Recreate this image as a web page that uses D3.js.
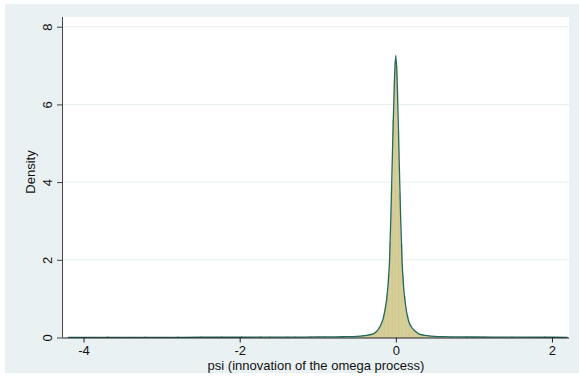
<!DOCTYPE html>
<html><head><meta charset="utf-8">
<script src="https://cdn.jsdelivr.net/npm/d3@7"></script>
<style>html,body{margin:0;padding:0;background:#fff;}svg{display:block;}</style>
</head><body>
<script>
// ---- data ----
const xTicks = [-4, -2, 0, 2];
const yTicks = [0, 2, 4, 6, 8];
const xTitle = "psi (innovation of the omega process)";
const yTitle = "Density";
const binWidth = 0.02;
// central histogram bins (bin start)
const binStart = [-0.60,-0.58,-0.56,-0.54,-0.52,-0.50,-0.48,-0.46,-0.44,-0.42,-0.40,-0.38,-0.36,-0.34,-0.32,-0.30,-0.28,-0.26,-0.24,-0.22,-0.20,-0.18,-0.16,-0.14,-0.12,-0.10,-0.08,-0.06,-0.04,-0.02,
  0.00,0.02,0.04,0.06,0.08,0.10,0.12,0.14,0.16,0.18,0.20,0.22,0.24,0.26,0.28,0.30,0.32,0.34,0.36,0.38,0.40,0.42,0.44,0.46,0.48,0.50,0.52,0.54,0.56,0.58];
const binHeight = [0.02,0.03,0.02,0.03,0.03,0.04,0.03,0.04,0.05,0.05,0.06,0.06,0.07,0.08,0.09,0.10,0.12,0.15,0.19,0.25,0.33,0.42,0.58,0.78,1.10,1.62,2.45,3.90,5.60,7.10,
  7.00,5.30,3.70,2.40,1.60,1.05,0.75,0.55,0.40,0.31,0.24,0.19,0.15,0.12,0.10,0.08,0.07,0.06,0.05,0.045,0.05,0.04,0.04,0.03,0.03,0.03,0.02,0.02,0.02,0.02];
// sparse tail bins
const tailStart = [-4.14,-4.02,-3.86,-3.70,-3.58,-3.40,-3.22,-3.10,-2.94,-2.80,-2.62,-2.50,-2.38,-2.24,-2.10,-1.98,-1.86,-1.74,-1.62,-1.50,-1.40,-1.30,-1.20,-1.10,-1.00,-0.92,-0.84,-0.76,-0.68,
  0.62,0.70,0.80,0.90,1.00,1.12,1.24,1.36,1.48,1.62,1.76,1.90,2.04];
const tailHeight = [0.01,0.01,0.01,0.02,0.01,0.01,0.02,0.01,0.01,0.02,0.01,0.02,0.01,0.02,0.01,0.02,0.01,0.02,0.02,0.01,0.02,0.02,0.01,0.02,0.02,0.02,0.01,0.02,0.02,
  0.02,0.02,0.01,0.02,0.01,0.02,0.01,0.01,0.02,0.01,0.01,0.02,0.01];
// kernel density curve
const kdeX = [-4.20,-3.50,-3.00,-2.50,-2.00,-1.50,-1.20,-1.00,-0.80,-0.70,-0.60,-0.50,-0.40,-0.30,-0.25,-0.20,-0.16,-0.12,-0.10,-0.08,-0.06,-0.04,-0.02,0.00,
  0.02,0.04,0.06,0.08,0.10,0.12,0.16,0.20,0.25,0.30,0.40,0.50,0.60,0.70,0.80,1.00,1.50,2.00,2.20];
const kdeY = [0.004,0.004,0.005,0.006,0.007,0.009,0.012,0.014,0.017,0.019,0.022,0.03,0.05,0.085,0.15,0.29,0.50,0.95,1.35,2.00,3.40,5.00,6.50,7.27,
  6.40,4.80,3.20,1.95,1.30,0.90,0.45,0.27,0.16,0.085,0.05,0.03,0.022,0.018,0.016,0.013,0.008,0.006,0.005];

// ---- drawing ----
const W = 579, H = 383;
const svg = d3.select("body").append("svg").attr("width", W).attr("height", H);
svg.append("rect").attr("width", W).attr("height", H).attr("fill", "#fff");
// graph region
svg.append("rect").attr("x", 5).attr("y", 4).attr("width", W - 5).attr("height", 369).attr("fill", "#eaf1f3");

const L = 63, R = 569, T = 17, B = 337.5;
svg.append("rect").attr("x", L).attr("y", T).attr("width", R - L).attr("height", B - T).attr("fill", "#fff");

const x = d3.scaleLinear().domain([-4.263, 2.218]).range([L, R]);
const y = d3.scaleLinear().domain([0, 8.25]).range([B, T]);

// gridlines
svg.append("g").selectAll("line").data(yTicks.filter(v => v > 0)).join("line")
  .attr("x1", L).attr("x2", R).attr("y1", d => y(d)).attr("y2", d => y(d))
  .attr("stroke", "#e5edf0").attr("stroke-width", 1);

// histogram bars
const bars = binStart.map((s, i) => ({s, h: binHeight[i]})).concat(tailStart.map((s, i) => ({s, h: tailHeight[i]})));
svg.append("g").selectAll("rect").data(bars).join("rect")
  .attr("x", d => x(d.s)).attr("width", d => x(d.s + binWidth) - x(d.s))
  .attr("y", d => y(d.h)).attr("height", d => B - y(d.h))
  .attr("fill", "#d8d098").attr("stroke", "#c4bb7e").attr("stroke-width", 0.3);

// kde line
const line = d3.line().x((d, i) => x(kdeX[i])).y(d => y(d)).curve(d3.curveMonotoneX);
svg.append("path").attr("d", line(kdeY)).attr("fill", "none")
  .attr("stroke", "#21695d").attr("stroke-width", 1.3);

// axes
const fontFam = "Liberation Sans, Arial, sans-serif";
const xAxis = svg.append("g").attr("transform", `translate(0,${B})`)
  .call(d3.axisBottom(x).tickValues(xTicks).tickSize(5).tickPadding(3).tickFormat(d3.format("d")));
xAxis.select(".domain").attr("d", `M${L},0.5H${R}`).attr("stroke", "#222");
xAxis.selectAll(".tick line").attr("stroke", "#222");
xAxis.selectAll("text").attr("font-family", fontFam).attr("font-size", 13).attr("fill", "#111")
  .text(d => (d < 0 ? "-" + Math.abs(d) : d));

const yAxis = svg.append("g").attr("transform", `translate(${L},0)`)
  .call(d3.axisLeft(y).tickValues(yTicks).tickSize(6).tickFormat(d3.format("d")));
yAxis.select(".domain").attr("d", `M-0.5,${T}V${B}`).attr("stroke", "#444");
yAxis.selectAll(".tick line").attr("stroke", "#444");
yAxis.selectAll("text").attr("font-family", fontFam).attr("font-size", 13).attr("fill", "#111")
  .attr("x", null).attr("dy", null).attr("text-anchor", "middle")
  .attr("transform", "translate(-11,0) rotate(-90)");

svg.append("text").attr("x", (L + R) / 2 + 0).attr("y", 370).attr("text-anchor", "middle")
  .attr("font-family", fontFam).attr("font-size", 13).attr("fill", "#111").text(xTitle);
svg.append("text").attr("transform", `translate(35,172) rotate(-90)`).attr("text-anchor", "middle")
  .attr("font-family", fontFam).attr("font-size", 13).attr("fill", "#111").text(yTitle);
</script>
</body></html>
